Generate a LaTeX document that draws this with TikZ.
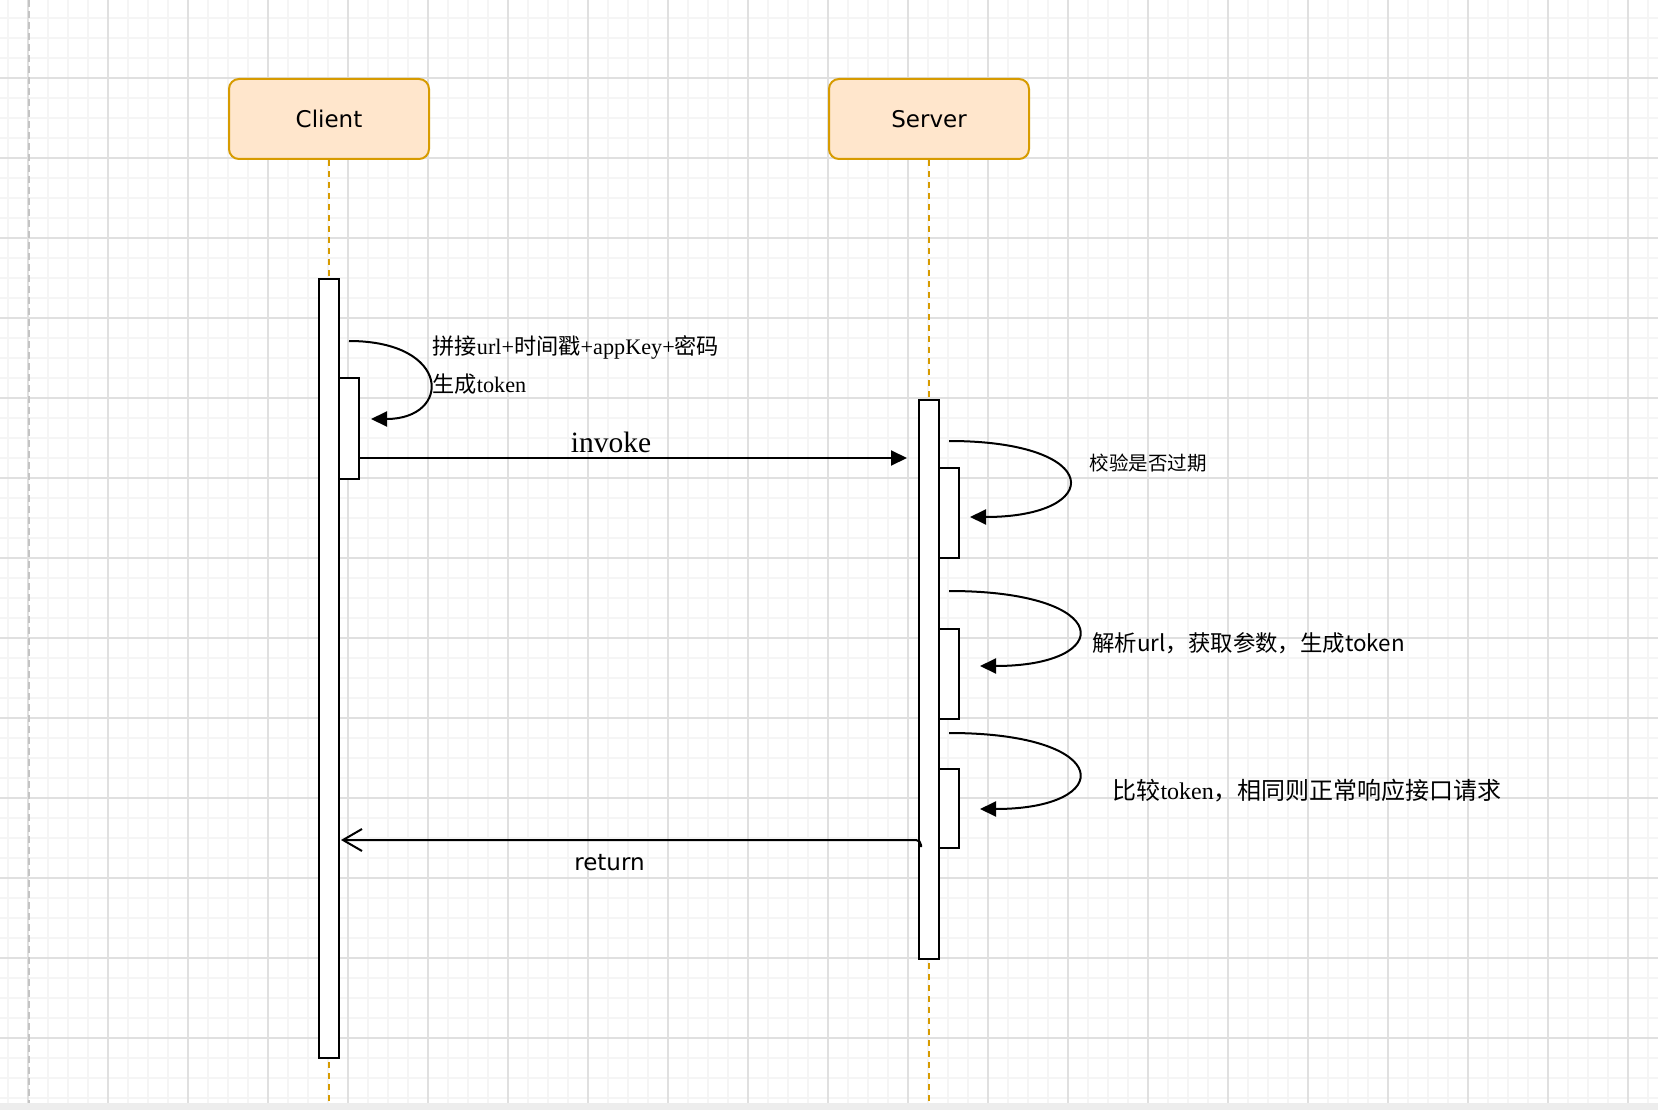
\documentclass[tikz,border=0pt]{standalone}
\usepackage{fontspec}
\setmainfont{Liberation Serif}
\newfontfamily\cjk{Noto Sans CJK SC}
\newfontfamily\dvs{DejaVu Sans}
\usetikzlibrary{arrows.meta}
\definecolor{boxfill}{HTML}{FFE6CC}
\definecolor{boxline}{HTML}{D79B00}
\definecolor{minorgrid}{HTML}{F5F5F5}
\definecolor{majorgrid}{HTML}{E0E0E0}
\definecolor{edgegray}{HTML}{C4C4C4}
\definecolor{bandgray}{HTML}{EDEDED}

\begin{document}
\begin{tikzpicture}[x=1pt,y=-1pt,
    actor/.style={draw=boxline,fill=boxfill,line width=2pt,rounded corners=10pt,
      minimum width=200pt,minimum height=80pt,inner sep=0pt,
      font=\dvs\fontsize{23}{28}\selectfont},
    lifeline/.style={draw=boxline,line width=2pt,dash pattern=on 6pt off 5pt},
    bar/.style={draw=black,fill=white,line width=2pt,minimum width=20pt,inner sep=0pt},
    selfmsg/.style={draw=black,line width=2pt,-{Triangle[length=16pt,width=15pt]}},
    msg/.style={draw=black,line width=2pt,-{Triangle[length=16pt,width=15pt]}},
    retmsg/.style={draw=black,line width=2pt,-{Straight Barb[length=19pt,width=22pt]}}]
    % canvas and grid
    \useasboundingbox (0,0) rectangle (1658,1110);
    \fill[white] (0,0) rectangle (1658,1110);
    \foreach \gx in {8,28,...,1648} \draw[minorgrid,line width=1.5pt] (\gx,0) -- (\gx,1103);
    \foreach \gy in {18,38,...,1098} \draw[minorgrid,line width=1.5pt] (0,\gy) -- (1658,\gy);
    \foreach \gx in {28,108,...,1628} \draw[majorgrid,line width=1.5pt] (\gx,0) -- (\gx,1103);
    \foreach \gy in {78,158,...,1038} \draw[majorgrid,line width=1.5pt] (0,\gy) -- (1658,\gy);
    \draw[edgegray,line width=2pt,dash pattern=on 7pt off 4pt] (29,0) -- (29,1103);
    \fill[bandgray] (0,1103) rectangle (1658,1110);

    % actors and lifelines
    \node[actor] (client) at (329,119) {Client};
    \node[actor] (server) at (929,119) {Server};
    \coordinate (cend) at (329,1101);
    \coordinate (send) at (929,1101);
    \draw[lifeline] (client.south) -- (cend);
    \draw[lifeline] (server.south) -- (send);

    % activation bars
    \node[bar,minimum height=779pt] (cbar) at (329,668.5) {};
    \node[bar,minimum height=101pt] (cact) at (349,428.5) {};
    \node[bar,minimum height=559pt] (sbar) at (929,679.5) {};
    \node[bar,minimum height=90pt] (sact1) at (949,513) {};
    \node[bar,minimum height=90pt] (sact2) at (949,674) {};
    \node[bar,minimum height=79pt] (sact3) at (949,808.5) {};

    % client self call
    \coordinate (c1s) at (349,341);
    \coordinate (c1e) at (371,419);
    \draw[selfmsg] (c1s) .. controls (452,341) and (452,419) .. (c1e);
    \node[anchor=west,align=left,font=\fontsize{22.2}{38}\selectfont] (clbl) at (429,365)
      {{\cjk 拼接}url+{\cjk 时间戳}+appKey+{\cjk 密码}\\{\cjk 生成}token};

    % invoke
    \coordinate (inv) at (907,458);
    \draw[msg] (cact.east |- inv) -- (inv);
    \node[anchor=base,font=\fontsize{29.5}{34}\selectfont] (invlbl) at (611,452) {invoke};

    % server self calls
    \coordinate (s1s) at (949,441);
    \coordinate (s1e) at (970,517);
    \draw[selfmsg] (s1s) .. controls (1105,441) and (1105,517) .. (s1e);
    \node[anchor=west,font=\cjk\fontsize{19.5}{24}\selectfont] (s1lbl) at (1086,463) {校验是否过期};

    \coordinate (s2s) at (949,591);
    \coordinate (s2e) at (980,666);
    \draw[selfmsg] (s2s) .. controls (1116,591) and (1116,666) .. (s2e);
    \node[anchor=west,font=\cjk\fontsize{22.4}{26}\selectfont] (s2lbl) at (1089,643) {解析url，获取参数，生成token};

    \coordinate (s3s) at (949,733);
    \coordinate (s3e) at (980,809);
    \draw[selfmsg] (s3s) .. controls (1116,733) and (1116,809) .. (s3e);
    \node[anchor=west,font=\fontsize{24}{28}\selectfont] (s3lbl) at (1109,791)
      {{\cjk 比较}token{\cjk ，相同则正常响应接口请求}};

    % return
    \coordinate (rs) at (921,847);
    \coordinate (rt) at (341,840);
    \draw[retmsg,rounded corners=5pt] (rs) |- (rt);
    \node[anchor=base,font=\dvs\fontsize{23}{28}\selectfont] (retlbl) at (609.5,870) {return};
\end{tikzpicture}
\end{document}
